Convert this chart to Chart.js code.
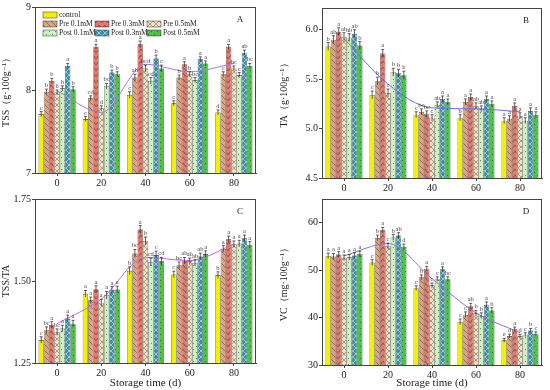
<!DOCTYPE html>
<html lang="en">
<head>
<meta charset="UTF-8" />
<title>Storage quality</title>
<script src="https://cdn.jsdelivr.net/npm/chart.js"></script>
<style>
  body { margin: 0; background: #fff; }
  #wrap { position: relative; width: 550px; height: 390px; }
  .panel { position: absolute; }
</style>
</head>
<body>
<div id="wrap">
  <div class="panel" style="left:0;top:0;width:278px;height:192px"><canvas id="chartA"></canvas></div>
  <div class="panel" style="left:278px;top:0;width:272px;height:192px"><canvas id="chartB"></canvas></div>
  <div class="panel" style="left:0;top:192px;width:278px;height:198px"><canvas id="chartC"></canvas></div>
  <div class="panel" style="left:278px;top:192px;width:272px;height:198px"><canvas id="chartD"></canvas></div>
</div>
<script>
const days = ["0", "20", "40", "60", "80"];
const seriesNames = ["control", "Pre 0.1mM", "Pre 0.3mM", "Pre 0.5mM", "Post 0.1mM", "Post 0.3mM", "Post 0.5mM"];

// rows = series (same order as seriesNames), columns = days
const tssValues = [
  [7.71, 7.65, 7.94, 7.84, 7.73],
  [7.98, 7.90, 8.15, 8.15, 8.19],
  [8.11, 8.52, 8.55, 8.31, 8.52],
  [7.97, 7.78, 8.26, 8.19, 8.26],
  [8.02, 8.05, 8.11, 8.12, 8.18],
  [8.29, 8.21, 8.38, 8.37, 8.45],
  [8.01, 8.19, 8.26, 8.32, 8.29]
];
const tssTrend = [7.99, 7.73, 8.31, 8.22, 8.32];
const tssErr = [0.03, 0.03, 0.04, 0.03, 0.03];
// rows = days, columns = series
const tssLetters = [
  ["c", "b", "b", "b", "b", "a", "b"],
  ["c", "cd", "a", "d", "bc", "b", "b"],
  ["c", "ab", "a", "bcd", "cd", "b", "c"],
  ["c", "b", "a", "b", "bc", "a", "a"],
  ["d", "c", "a", "bc", "c", "ab", "bc"]
];

const taValues = [
  [5.83, 5.34, 5.14, 5.11, 5.08],
  [5.90, 5.48, 5.17, 5.27, 5.10],
  [5.98, 5.76, 5.15, 5.32, 5.23],
  [5.93, 5.36, 5.11, 5.23, 5.13],
  [5.92, 5.57, 5.24, 5.20, 5.08],
  [5.96, 5.56, 5.30, 5.30, 5.18],
  [5.84, 5.54, 5.27, 5.25, 5.14]
];
const taTrend = [5.91, 5.45, 5.21, 5.20, 5.17];
const taErr = [0.04, 0.04, 0.03, 0.03, 0.03];
const taLetters = [
  ["b", "ab", "a", "ab", "ab", "ab", "b"],
  ["c", "b", "a", "c", "b", "b", "b"],
  ["c", "bc", "bc", "c", "ab", "a", "a"],
  ["b", "a", "a", "ab", "ab", "a", "a"],
  ["a", "a", "a", "a", "a", "a", "a"]
];

const ratioValues = [
  [1.320, 1.461, 1.531, 1.520, 1.518],
  [1.350, 1.441, 1.584, 1.548, 1.598],
  [1.366, 1.475, 1.657, 1.562, 1.627],
  [1.344, 1.434, 1.622, 1.560, 1.612],
  [1.355, 1.458, 1.558, 1.555, 1.614],
  [1.386, 1.473, 1.579, 1.575, 1.630],
  [1.370, 1.474, 1.560, 1.582, 1.610]
];
const ratioTrend = [1.370, 1.445, 1.572, 1.562, 1.612];
const ratioErr = [0.010, 0.010, 0.012, 0.010, 0.010];
const ratioLetters = [
  ["c", "bc", "a", "bc", "a", "a", "a"],
  ["a", "a", "a", "a", "a", "a", "a"],
  ["b", "bc", "a", "b", "cd", "c", "cd"],
  ["c", "bc", "ab", "ab", "ab", "ab", "a"],
  ["b", "a", "a", "a", "a", "a", "a"]
];

const vcValues = [
  [53.0, 51.6, 46.2, 39.1, 35.2],
  [52.9, 56.8, 48.5, 40.6, 36.1],
  [53.3, 58.4, 50.3, 42.4, 37.6],
  [52.6, 55.1, 46.8, 40.9, 36.1],
  [52.7, 56.9, 48.1, 40.4, 36.4],
  [53.1, 57.3, 50.2, 42.7, 37.3],
  [53.4, 54.9, 48.1, 41.5, 36.6]
];
const vcTrend = [53.0, 55.6, 48.2, 41.0, 36.8];
const vcErr = [0.6, 0.6, 0.5, 0.6, 0.4];
const vcLetters = [
  ["a", "a", "a", "a", "a", "a", "a"],
  ["c", "b", "a", "c", "b", "ab", "d"],
  ["c", "b", "a", "c", "c", "a", "bc"],
  ["c", "c", "ab", "b", "b", "a", "b"],
  ["e", "d", "a", "d", "c", "b", "c"]
];

const serif = "'Liberation Serif', 'DejaVu Serif', serif";

// hatch patterns for the seven treatments
function makePattern(bg, fg, draw) {
  const s = 6;
  const c = document.createElement("canvas");
  c.width = s; c.height = s;
  const g = c.getContext("2d");
  g.fillStyle = bg;
  g.fillRect(0, 0, s, s);
  g.strokeStyle = fg;
  g.fillStyle = fg;
  g.lineWidth = 0.8;
  draw(g, s);
  return g.createPattern(c, "repeat");
}
const diag = (g, s) => { g.beginPath(); for (const k of [-s, 0, s]) { g.moveTo(k, 0); g.lineTo(k + s, s); } g.stroke(); };
const chevron = (g, s) => { g.beginPath(); g.moveTo(0, s * 0.8); g.lineTo(s / 2, s * 0.2); g.lineTo(s, s * 0.8); g.stroke(); };
const cross = (g, s) => { g.beginPath(); for (const k of [-s, 0, s]) { g.moveTo(k, 0); g.lineTo(k + s, s); g.moveTo(k + s, 0); g.lineTo(k, s); } g.stroke(); };
const dots = (g, s) => { g.fillRect(1, 1, 1, 1); g.fillRect(4, 4, 1, 1); };

const fills = [
  "#f2f200",
  makePattern("#d9a585", "#8a5a40", diag),
  makePattern("#e8786a", "#8c2f2a", chevron),
  makePattern("#f3e2c6", "#9a8a6a", cross),
  makePattern("#cdf2c0", "#5a8a50", dots),
  makePattern("#3b8fa8", "#b0d8e0", cross),
  makePattern("#4cc443", "#2a7a25", dots)
];

const frameAndMarks = {
  id: "frameAndMarks",
  afterDatasetsDraw(chart) {
    const o = chart.options.plugins.frameAndMarks;
    const ctx = chart.ctx;
    const ys = chart.scales.y;
    ctx.save();
    // error bars and significance letters
    let s = 0;
    chart.data.datasets.forEach((ds, i) => {
      const meta = chart.getDatasetMeta(i);
      if (meta.type !== "bar") return;
      const si = s++;
      meta.data.forEach((el, j) => {
        const v = ds.data[j];
        const top = ys.getPixelForValue(v + o.err[j]);
        const bot = ys.getPixelForValue(v - o.err[j]);
        ctx.strokeStyle = "#222";
        ctx.lineWidth = 0.7;
        ctx.beginPath();
        ctx.moveTo(el.x, top); ctx.lineTo(el.x, bot);
        ctx.moveTo(el.x - 1.5, top); ctx.lineTo(el.x + 1.5, top);
        ctx.stroke();
        ctx.fillStyle = "#444";
        ctx.font = "6.5px " + serif;
        ctx.textAlign = "center";
        ctx.textBaseline = "bottom";
        ctx.fillText(o.letters[j][si], el.x, top - 0.5);
      });
    });
    // box around plot
    const a = chart.chartArea;
    ctx.strokeStyle = "#444";
    ctx.lineWidth = 1;
    ctx.strokeRect(a.left + 0.5, a.top + 0.5, a.right - a.left - 1, a.bottom - a.top);
    // panel tag
    ctx.fillStyle = "#222";
    ctx.font = "9px " + serif;
    ctx.textAlign = "center";
    ctx.textBaseline = "middle";
    ctx.fillText(o.tag, a.right - 16, a.top + 13);
    // legend (panel A only)
    if (o.legend) {
      ctx.font = "7.5px " + serif;
      ctx.textAlign = "left";
      const rows = [[0], [1, 2, 3], [4, 5, 6]];
      rows.forEach((row, r) => {
        row.forEach((si, c) => {
          const x = 43 + c * 52;
          const y = 12 + r * 9;
          ctx.fillStyle = fills[si];
          ctx.fillRect(x, y, 14, 6);
          ctx.strokeStyle = "#333";
          ctx.lineWidth = 0.5;
          ctx.strokeRect(x, y, 14, 6);
          ctx.fillStyle = "#222";
          ctx.fillText(seriesNames[si], x + 16, y + 3.5);
        });
      });
    }
    ctx.restore();
  }
};

function makePanel(id, cfg) {
  const datasets = [{
    type: "line",
    label: "trend",
    data: cfg.trend,
    borderColor: cfg.lineColor,
    borderWidth: 1,
    pointRadius: 0,
    tension: 0.4,
    cubicInterpolationMode: "monotone",
    order: 0
  }];
  cfg.values.forEach((vals, i) => {
    datasets.push({
      type: "bar",
      label: seriesNames[i],
      data: vals,
      backgroundColor: fills[i],
      borderColor: "#333",
      borderWidth: 0.6,
      barPercentage: 1,
      categoryPercentage: 0.84,
      order: 1
    });
  });
  new Chart(document.getElementById(id), {
    data: { labels: days, datasets: datasets },
    options: {
      responsive: true,
      maintainAspectRatio: false,
      animation: false,
      layout: { padding: { top: cfg.padTop, right: cfg.padRight } },
      plugins: {
        legend: { display: false },
        tooltip: { enabled: false },
        frameAndMarks: { err: cfg.err, letters: cfg.letters, tag: cfg.tag, legend: cfg.legend }
      },
      scales: {
        x: {
          grid: { display: true, drawOnChartArea: false, tickLength: 3, color: "#444", offset: false },
          border: { color: "#444" },
          ticks: { color: "#222", font: { family: serif, size: 10 }, padding: 1 },
          title: { display: !!cfg.xTitle, text: cfg.xTitle || "", color: "#222", font: { family: serif, size: 11 }, padding: 0 },
          afterFit(s) { s.height = cfg.xHeight; }
        },
        y: {
          min: cfg.min,
          max: cfg.max,
          grid: { display: true, drawOnChartArea: false, tickLength: 3, color: "#444" },
          border: { color: "#444" },
          ticks: {
            stepSize: cfg.step,
            includeBounds: false,
            color: "#222",
            font: { family: serif, size: 10 },
            padding: 1,
            callback: v => v.toFixed(cfg.decimals)
          },
          title: { display: true, text: cfg.yTitle, color: "#222", font: { family: serif, size: 10 }, padding: 0 },
          afterFit(s) { s.width = cfg.yWidth; }
        }
      }
    },
    plugins: [frameAndMarks]
  });
}

makePanel("chartA", {
  values: tssValues, trend: tssTrend, err: tssErr, letters: tssLetters,
  lineColor: "#a27ae0", tag: "A", legend: true,
  min: 7, max: 9, step: 1, decimals: 0,
  yTitle: "TSS\uFF08g\u00B7100g\u207B\u00B9\uFF09",
  yWidth: 35, xHeight: 19, padTop: 7, padRight: 22
});
makePanel("chartB", {
  values: taValues, trend: taTrend, err: taErr, letters: taLetters,
  lineColor: "#6f6fe0", tag: "B",
  min: 4.5, max: 6.22, step: 0.5, decimals: 1,
  yTitle: "TA\uFF08g\u00B7100g\u207B\u00B9\uFF09",
  yWidth: 44, xHeight: 14, padTop: 8, padRight: 8
});
makePanel("chartC", {
  values: ratioValues, trend: ratioTrend, err: ratioErr, letters: ratioLetters,
  lineColor: "#c06ad8", tag: "C",
  min: 1.25, max: 1.75, step: 0.25, decimals: 2,
  yTitle: "TSS/TA", xTitle: "Storage time (d)",
  yWidth: 35, xHeight: 27, padTop: 1, padRight: 22
});
makePanel("chartD", {
  values: vcValues, trend: vcTrend, err: vcErr, letters: vcLetters,
  lineColor: "#8676d8", tag: "D",
  min: 30, max: 65, step: 10, decimals: 0,
  yTitle: "VC\uFF08mg\u00B7100g\u207B\u00B9\uFF09", xTitle: "Storage time (d)",
  yWidth: 44, xHeight: 25, padTop: 3, padRight: 8
});
</script>
</body>
</html>
